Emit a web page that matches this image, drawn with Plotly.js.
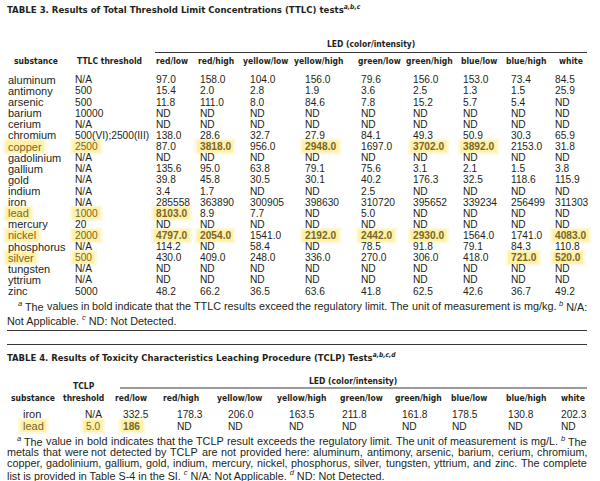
<!DOCTYPE html>
<html><head><meta charset="utf-8">
<script src="https://cdn.plot.ly/plotly-3.0.1.min.js"></script>
<style>html,body{margin:0;padding:0;background:#fff}#chart{width:600px;height:481px}</style>
</head><body><div id="chart"></div>
<script>
// ---------------- DATA ----------------
const ttlcSubstances = ["aluminum","antimony","arsenic","barium","cerium","chromium","copper","gadolinium","gallium","gold","indium","iron","lead","mercury","nickel","phosphorus","silver","tungsten","yttrium","zinc"];
const ttlcThresholds = ["N/A","500","500","10000","N/A","500(VI);2500(III)","2500","N/A","N/A","N/A","N/A","N/A","1000","20","2000","N/A","500","N/A","N/A","5000"];
const ledConditions = ["red/low","red/high","yellow/low","yellow/high","green/low","green/high","blue/low","blue/high","white"];
const redLow     = ["97.0","15.4","11.8","ND","ND","138.0","87.0","ND","135.6","39.8","3.4","285558","8103.0","ND","4797.0","114.2","430.0","ND","ND","48.2"];
const redHigh    = ["158.0","2.0","111.0","ND","ND","28.6","3818.0","ND","95.0","45.8","1.7","363890","8.9","ND","2054.0","ND","409.0","ND","ND","66.2"];
const yellowLow  = ["104.0","2.8","8.0","ND","ND","32.7","956.0","ND","63.8","30.5","ND","300905","7.7","ND","1541.0","58.4","248.0","ND","ND","36.5"];
const yellowHigh = ["156.0","1.9","84.6","ND","ND","27.9","2948.0","ND","79.1","30.1","ND","398630","ND","ND","2192.0","ND","336.0","ND","ND","63.6"];
const greenLow   = ["79.6","3.6","7.8","ND","ND","84.1","1697.0","ND","75.6","40.2","2.5","310720","5.0","ND","2442.0","78.5","270.0","ND","ND","41.8"];
const greenHigh  = ["156.0","2.5","15.2","ND","ND","49.3","3702.0","ND","3.1","176.3","ND","395652","ND","ND","2930.0","91.8","306.0","ND","ND","62.5"];
const blueLow    = ["153.0","1.3","5.7","ND","ND","50.9","3892.0","ND","2.1","32.5","ND","339234","ND","ND","1564.0","79.1","418.0","ND","ND","42.6"];
const blueHigh   = ["73.4","1.5","5.4","ND","ND","30.3","2153.0","ND","1.5","118.6","ND","256499","ND","ND","1741.0","84.3","721.0","ND","ND","36.7"];
const whiteLed   = ["84.5","25.9","ND","ND","ND","65.9","31.8","ND","3.8","115.9","ND","311303","ND","ND","4083.0","110.8","520.0","ND","ND","49.2"];
const ttlcColumns = [redLow, redHigh, yellowLow, yellowHigh, greenLow, greenHigh, blueLow, blueHigh, whiteLed];

const tclpSubstances = ["iron","lead"];
const tclpThresholds = ["N/A","5.0"];
const tclpIron = ["332.5","178.3","206.0","163.5","211.8","161.8","178.5","130.8","202.3"];
const tclpLead = ["186","ND","ND","ND","ND","ND","ND","ND","ND"];
const tclpRows = [tclpIron, tclpLead];

const title3 = "TABLE 3. Results of Total Threshold Limit Concentrations (TTLC) tests";
const title3Sup = "a,b,c";
const title4 = "TABLE 4. Results of Toxicity Characteristics Leaching Procedure (TCLP) Tests";
const title4Sup = "a,b,c,d";
const ledLabel = "LED (color/intensity)";
const foot3 = [
  "<sup><i>a</i></sup> The values in bold indicate that the TTLC results exceed the regulatory limit. The unit of measurement is mg/kg. <sup><i>b</i></sup> N/A:",
  "Not Applicable. <sup><i>c</i></sup> ND: Not Detected."
];
const foot4 = [
  "<sup><i>a</i></sup> The value in bold indicates that the TCLP result exceeds the regulatory limit. The unit of measurement is mg/L. <sup><i>b</i></sup> The",
  "metals that were not detected by TCLP are not provided here: aluminum, antimony, arsenic, barium, cerium, chromium,",
  "copper, gadolinium, gallium, gold, indium, mercury, nickel, phosphorus, silver, tungsten, yttrium, and zinc. The complete",
  "list is provided in Table S-4 in the SI. <sup><i>c</i></sup> N/A: Not Applicable. <sup><i>d</i></sup> ND: Not Detected."
];

// ---------------- GEOMETRY / STYLE ----------------
const INK = '#231f20';
const HI_INK = '#7a6626';
const BODY = "'Liberation Sans', Arial, sans-serif";
const COND = "'Liberation Sans Narrow', 'DejaVu Sans Condensed', 'Arial Narrow', sans-serif";
const NAME_SIZE = 11, CELL_SIZE = 10.2, FOOT_SIZE = 10.8;
const canvas = document.createElement('canvas');
const ctx = canvas.getContext('2d');
function mw(txt, font){ ctx.font = font; return ctx.measureText(txt).width; }
function measureRich(tok, size, bold){
  const re = /<sup>(.*?)<\/sup>/g; let w = 0, last = 0, m;
  const f = (bold?'bold ':'') + size + "px 'Liberation Sans'";
  const fs = 'italic ' + (size*0.7) + "px 'Liberation Sans'";
  while ((m = re.exec(tok))) {
    w += mw(tok.slice(last, m.index).replace(/<[^>]+>/g,''), f);
    w += mw(m[1].replace(/<[^>]+>/g,''), fs);
    last = re.lastIndex;
  }
  w += mw(tok.slice(last).replace(/<[^>]+>/g,''), f);
  return w;
}
function fitSize(txt, target, base){
  const w = mw(txt, "bold " + base + "px " + COND);
  return base * target / w;
}

const ann = [], shapes = [];
function addText(x, y, text, o){
  o = o || {};
  ann.push({xref:'x', yref:'y', x:x, y:y, text:text, showarrow:false,
    xanchor:o.anchor||'left', yanchor:'middle', borderpad:0, borderwidth:0,
    font:{family:o.family||BODY, size:o.size||NAME_SIZE, color:o.color||INK}});
}
function hline(x0, x1, y, w){
  shapes.push({type:'line', xref:'x', yref:'y', x0:x0, x1:x1, y0:y, y1:y, line:{color:'#3a3536', width:w||1}});
}
function glow(x0, x1, yc){
  shapes.push({type:'rect', xref:'x', yref:'y', layer:'below', x0:x0-5, x1:x1+5, y0:yc-8, y1:yc+8,
    fillcolor:'rgba(253,236,140,0.30)', line:{width:0}});
  shapes.push({type:'rect', xref:'x', yref:'y', layer:'below', x0:x0-2.5, x1:x1+2.5, y0:yc-6, y1:yc+6,
    fillcolor:'rgba(252,228,105,0.45)', line:{width:0}});
}
function numericThreshold(t){ return /^\d+(\.\d+)?$/.test(t) ? parseFloat(t) : NaN; }
function exceeds(v, t){ const tv = numericThreshold(t), vv = parseFloat(v); return !isNaN(tv) && !isNaN(vv) && vv > tv; }

function justify(text, x0, x1, y, size){
  const raw = text.split(' ');
  const toks = [];
  for (let i = 0; i < raw.length; i++) {
    if (/^<sup>/.test(raw[i]) && i+1 < raw.length) { toks.push(raw[i] + ' ' + raw[i+1]); i++; }
    else toks.push(raw[i]);
  }
  const ws = toks.map(t => measureRich(t, size));
  const total = ws.reduce((a,b)=>a+b, 0);
  const gap = (x1 - x0 - total) / (toks.length - 1);
  let x = x0;
  toks.forEach((t, i) => { addText(x, y, t, {size:size}); x += ws[i] + gap; });
}

// ---------- TABLE 3 ----------
const HS = fitSize("substance", 40, 12) * 1.1;
const t3TitleSize = fitSize(title3, 312, 14) * 1.08;
addText(7, 8.5, '<b>' + title3 + '<sup><i>' + title3Sup + '</i></sup></b>', {family:COND, size:t3TitleSize});
addText(371, 43.5, '<b>' + ledLabel + '</b>', {family:COND, size:HS, anchor:'center'});
hline(155, 587, 52.5, 1.2);
const t3HeadY = 60.5;
addText(35.7, t3HeadY, '<b>substance</b>', {family:COND, size:HS, anchor:'center'});
addText(109.7, t3HeadY, '<b>TTLC threshold</b>', {family:COND, size:HS, anchor:'center'});
const t3HeadCX = [172, 215.5, 265, 318, 379, 429, 478.5, 525.5, 570.5];
const t3ColX = [156, 199.5, 249.5, 305, 361, 413, 463, 510.5, 555];
ledConditions.forEach((c, j) => addText(t3HeadCX[j], t3HeadY, '<b>' + c + '</b>', {family:COND, size:HS, anchor:'center'}));
const row0 = 79.8, rowStep = 11.12;
const subX = 8, thrX = 75;
ttlcSubstances.forEach((s, i) => {
  const y = row0 + i * rowStep;
  const thr = ttlcThresholds[i];
  const anyEx = ttlcColumns.some(col => exceeds(col[i], thr));
  if (anyEx) {
    glow(subX, subX + measureRich(s, NAME_SIZE), y);
    glow(thrX, thrX + measureRich(thr, CELL_SIZE), y);
  }
  addText(subX, y, s, {color: anyEx ? HI_INK : INK});
  addText(thrX, y, thr, {size:CELL_SIZE, color: anyEx ? HI_INK : INK});
  ttlcColumns.forEach((col, j) => {
    const v = col[i];
    if (exceeds(v, thr)) {
      glow(t3ColX[j], t3ColX[j] + measureRich(v, CELL_SIZE, true), y);
      addText(t3ColX[j], y, '<b>' + v + '</b>', {size:CELL_SIZE, color: HI_INK});
    } else addText(t3ColX[j], y, v, {size:CELL_SIZE});
  });
});
justify(foot3[0], 18, 587, 306, FOOT_SIZE);
addText(7, 319.5, foot3[1], {size:FOOT_SIZE});
hline(7, 587, 330.5, 1);
hline(7, 587, 344.5, 1);

// ---------- TABLE 4 ----------
const t4TitleSize = fitSize(title4, 339, 14) * 1.08;
addText(7, 357, '<b>' + title4 + '<sup><i>' + title4Sup + '</i></sup></b>', {family:COND, size:t4TitleSize});
addText(353, 380.5, '<b>' + ledLabel + '</b>', {family:COND, size:HS, anchor:'center'});
hline(120, 587, 388, 1.2);
addText(84, 385.5, '<b>TCLP</b>', {family:COND, size:HS, anchor:'center'});
const t4HeadY = 397.5;
addText(33, t4HeadY, '<b>substance</b>', {family:COND, size:HS, anchor:'center'});
addText(83.5, t4HeadY, '<b>threshold</b>', {family:COND, size:HS, anchor:'center'});
const t4HeadCX = [130.7, 181, 239, 301, 361, 418, 469, 525.5, 572.5];
const t4ColX = [123.3, 176.7, 227.7, 289.3, 342, 401.7, 451.7, 508.3, 560.7];
ledConditions.forEach((c, j) => addText(t4HeadCX[j], t4HeadY, '<b>' + c + '</b>', {family:COND, size:HS, anchor:'center'}));
const t4RowY = [414.3, 426];
const t4SubX = 23, t4ThrCX = 93;
tclpSubstances.forEach((s, i) => {
  const y = t4RowY[i];
  const thr = tclpThresholds[i];
  const row = tclpRows[i];
  const anyEx = row.some(v => exceeds(v, thr));
  if (anyEx) {
    glow(t4SubX, t4SubX + measureRich(s, NAME_SIZE), y);
    const tw = measureRich(thr, CELL_SIZE);
    glow(t4ThrCX - tw/2, t4ThrCX + tw/2, y);
  }
  addText(t4SubX, y, s, {color: anyEx ? HI_INK : INK});
  addText(t4ThrCX, y, thr, {anchor:'center', size:CELL_SIZE, color: anyEx ? HI_INK : INK});
  row.forEach((v, j) => {
    if (exceeds(v, thr)) {
      glow(t4ColX[j], t4ColX[j] + measureRich(v, CELL_SIZE, true), y);
      addText(t4ColX[j], y, '<b>' + v + '</b>', {size:CELL_SIZE, color: HI_INK});
    } else addText(t4ColX[j], y, v, {size:CELL_SIZE});
  });
});
justify(foot4[0], 17, 587, 441, FOOT_SIZE);
justify(foot4[1], 7, 587, 452.3, FOOT_SIZE);
justify(foot4[2], 7, 587, 463.4, FOOT_SIZE);
addText(7, 474.8, foot4[3], {size:FOOT_SIZE});

const layout = {
  width:600, height:481, margin:{l:0, r:0, t:0, b:0},
  paper_bgcolor:'#ffffff', plot_bgcolor:'#ffffff', showlegend:false,
  xaxis:{range:[0,600], visible:false, fixedrange:true},
  yaxis:{range:[481,0], visible:false, fixedrange:true},
  annotations: ann, shapes: shapes
};
Plotly.newPlot('chart', [{type:'scatter', x:[0], y:[0], mode:'markers', marker:{opacity:0}, hoverinfo:'skip'}], layout, {staticPlot:true, displayModeBar:false});
</script></body></html>
